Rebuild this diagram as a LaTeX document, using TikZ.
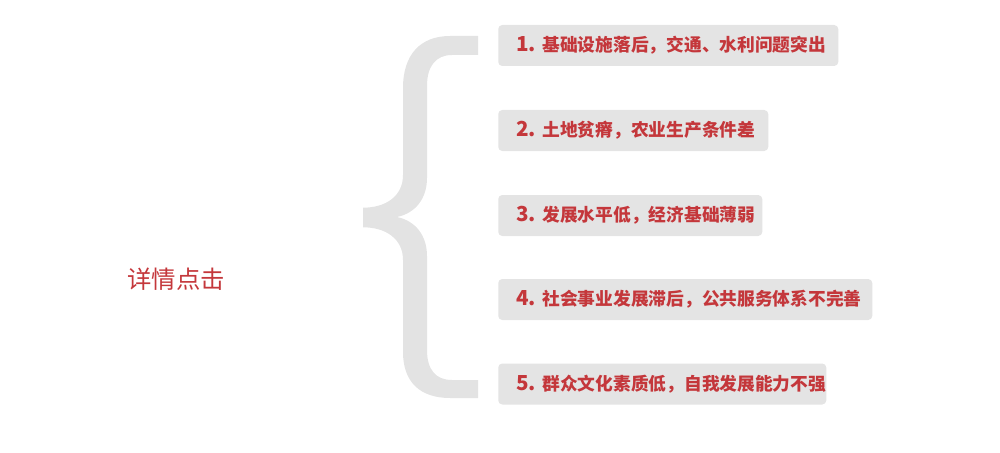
\documentclass[tikz,border=0pt]{standalone}
\usepackage{fontspec}
\newfontfamily\cjk{Noto Sans CJK SC}
\definecolor{txtred}{HTML}{C4373B}
\definecolor{boxgray}{HTML}{E4E4E4}
\definecolor{bracegray}{HTML}{E3E3E3}
\newcommand{\itemline}[3]{\makebox[#1][l]{{\fontsize{15.5pt}{17pt}\selectfont #2. }#3}}
\begin{document}
\begin{tikzpicture}[x=0.75pt,y=-0.75pt,
  itembox/.style={fill=boxgray, rounded corners=3pt, anchor=west,
    inner xsep=13.5pt, inner ysep=0pt, minimum height=30.75pt,
    text=txtred, font=\cjk\bfseries\fontsize{13.3pt}{15pt}\selectfont},
  label/.style={text=txtred, font=\cjk\fontsize{18.3pt}{20pt}\selectfont}]
\useasboundingbox (0,0) rectangle (1000,453);
% brace
\fill[bracegray] (478,36) -- (450,36) .. controls (420,36) and (403,55) .. (403,88)
  -- (403,175) .. controls (403,196) and (386,207.7) .. (363,207.7)
  -- (363,227.3) .. controls (386,227.3) and (403,239) .. (403,260)
  -- (403,352) .. controls (403,382) and (420,398) .. (450,398)
  -- (478,398) -- (478,380) -- (452,380) .. controls (436,380) and (427,370) .. (427,350)
  -- (427,256) .. controls (427,236) and (416,221) .. (397,217)
  .. controls (416,213) and (427,198) .. (427,178)
  -- (427,86) .. controls (427,66) and (436,55) .. (452,55)
  -- (478,55) -- cycle;
\node[label] (detail) at (176,279) {详情点击};
\node[itembox] (b1) at (498,45.5) {\itemline{228pt}{1}{基础设施落后，交通、水利问题突出}};
\node[itembox] (b2) at (498,130.5) {\itemline{175.5pt}{2}{土地贫瘠，农业生产条件差}};
\node[itembox] (b3) at (498,215.5) {\itemline{171pt}{3}{发展水平低，经济基础薄弱}};
\node[itembox] (b4) at (498,299.5) {\itemline{253.5pt}{4}{社会事业发展滞后，公共服务体系不完善}};
\node[itembox] (b5) at (498,384) {\itemline{219pt}{5}{群众文化素质低，自我发展能力不强}};
\end{tikzpicture}
\end{document}
